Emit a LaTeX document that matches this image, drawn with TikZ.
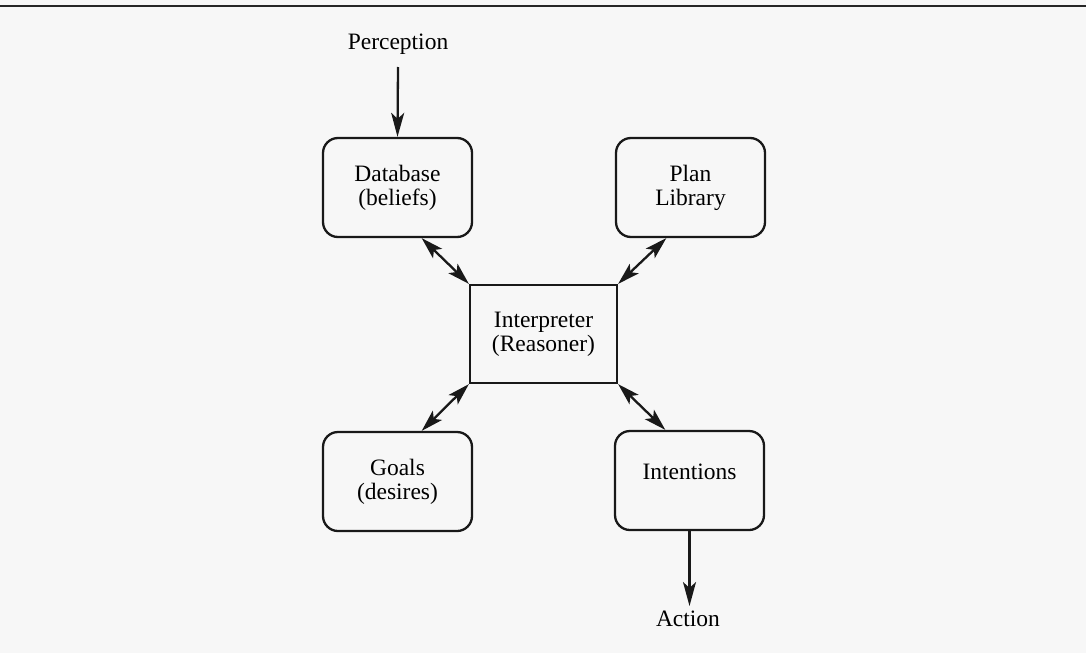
\documentclass[tikz,border=0pt]{standalone}
\usepackage{fontspec}
\setmainfont{Liberation Serif}
\usetikzlibrary{arrows.meta,calc}
\begin{document}
\begin{tikzpicture}[x=1pt,y=-1pt,
  every node/.style={font=\fontsize{23.5}{25}\selectfont, text=black},
  roundbox/.style={draw=black!90, line width=2.3pt, rounded corners=15pt,
    minimum width=149pt, minimum height=99pt, align=center, inner sep=0pt},
  sharpbox/.style={draw=black!90, line width=2.3pt,
    minimum width=147pt, minimum height=98pt, align=center, inner sep=0pt},
  label/.style={inner sep=0pt},
  flow/.style={draw=black!90, line width=2.3pt, -{Stealth[length=24pt,width=13pt,inset=6pt]}},
  link/.style={draw=black!90, line width=2.3pt,
    {Stealth[length=22pt,width=13pt,inset=5pt]}-{Stealth[length=22pt,width=13pt,inset=5pt]}}]
  % page background and top rule
  \fill[black!3] (0,0) rectangle (1086,653);
  \useasboundingbox (0,0) rectangle (1086,653);
  \draw[black!85, line width=2pt] (0,6) -- (1086,6);

  % boxes
  \node[roundbox] (db) at (397.5,187.5) {Database\\[-1pt](beliefs)};
  \node[roundbox] (plan) at (690.5,187.5) {Plan\\[-1pt]Library};
  \node[sharpbox] (interp) at (543.5,334) {Interpreter\\[-1pt](Reasoner)};
  \node[roundbox] (goals) at (397.5,481.5) {Goals\\[-1pt](desires)};
  \node[roundbox] (int) at (689.5,480.5) {};
  \node[label] (inttext) at (689.5,472) {Intentions};

  % external labels
  \node[label] (perc) at (398,44) {Perception};
  \node[label] (act) at (688,619) {Action};

  % input and output
  \draw[flow] (perc.south |- 0,67) -- (db.north);
  \coordinate (actin) at (int.south |- 0,606);
  \draw[flow] (int.south) -- (actin);

  % links to the interpreter
  \draw[link] ($(db.south west)!0.66!(db.south east)$) -- (interp.north west);
  \draw[link] ($(plan.south west)!0.34!(plan.south east)$) -- (interp.north east);
  \draw[link] (interp.south west) -- ($(goals.north west)!0.66!(goals.north east)$);
  \draw[link] (interp.south east) -- ($(int.north west)!0.34!(int.north east)$);
\end{tikzpicture}
\end{document}
